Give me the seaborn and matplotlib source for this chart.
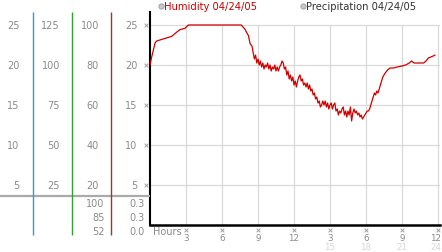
import matplotlib
matplotlib.use("Agg")
import matplotlib.pyplot as plt
import seaborn as sns
import pandas as pd

# ---------------- data ----------------
hours = [0.0, 0.14, 0.42, 0.55, 1.25, 1.8, 2.2, 2.5, 2.9, 3.2, 7.6, 7.9, 8.2, 8.35, 8.5,
         8.6, 8.7, 8.8, 8.9, 9.0, 9.1, 9.2, 9.3, 9.4, 9.5, 9.6, 9.7, 9.8, 9.9,
         10.0, 10.1, 10.2, 10.3, 10.4, 10.5, 10.6, 10.7, 10.8, 10.9,
         11.0, 11.1, 11.2, 11.3, 11.4, 11.5, 11.6, 11.7, 11.8, 11.9,
         12.0, 12.1, 12.2, 12.3, 12.4, 12.5, 12.6, 12.7, 12.8, 12.9,
         13.0, 13.1, 13.2, 13.3, 13.4, 13.5, 13.6, 13.7, 13.8, 13.9,
         14.0, 14.1, 14.2, 14.3, 14.4, 14.5, 14.6, 14.7, 14.8, 14.9,
         15.0, 15.1, 15.2, 15.3, 15.4, 15.5, 15.6, 15.7, 15.8, 15.9,
         16.0, 16.1, 16.2, 16.3, 16.4, 16.5, 16.6, 16.7, 16.8, 16.9,
         17.0, 17.1, 17.2, 17.3, 17.4, 17.5, 17.6, 17.7, 17.8, 17.9,
         18.0, 18.1, 18.2, 18.3, 18.4, 18.5, 18.6, 18.7, 18.8, 18.9,
         19.0, 19.1, 19.2, 19.3, 19.4, 19.5, 19.6, 19.8,
         20.0, 20.3, 20.6, 21.0, 21.3, 21.6, 21.8, 22.0, 22.4, 22.8,
         23.0, 23.2, 23.4, 23.6, 23.75]
humidity = [80, 84, 91, 92, 93.3, 94.3, 96.3, 97.7, 98.3, 100, 100, 98, 94.7, 90.5, 89.5,
            86, 83, 85, 81, 83, 80, 82, 79, 81, 78, 80, 79, 81, 78,
            80, 77, 79, 78, 80, 77, 79, 77, 79, 80,
            82, 81, 78, 79, 75, 77, 73, 75, 72, 74,
            70, 72, 69, 72, 74, 75, 72, 73, 70, 71,
            69, 71, 68, 70, 67, 68, 65, 66, 63, 64,
            61, 62, 59, 60, 62, 60, 62, 59, 61, 58,
            60, 61, 58, 60, 61, 57, 58, 55, 57, 56,
            58, 59, 55, 57, 54, 57, 55, 59, 52, 56,
            58, 56, 57, 55, 56, 54, 55, 53, 54, 55,
            56, 57, 57, 58, 60, 62, 64, 66, 65, 67,
            66, 68, 70, 72, 74, 75, 76, 77.5,
            78.5, 78.5, 79, 79.5, 80, 81, 82, 81, 81, 81,
            82, 83.5, 84, 84.5, 85]

col1_labels = ["25", "20", "15", "10", "5"]
col2_labels = ["125", "100", "75", "50", "25"]
col3_labels = ["100", "80", "60", "40", "20"]
col4_labels = ["25", "20", "15", "10", "5"]
grid_levels = [100, 80, 60, 40, 20]
col3_lower = ["100", "85", "52"]
col4_lower = ["0.3", "0.3", "0.0"]
hour_ticks = [3, 6, 9, 12, 15, 18, 21, 24]
hour_labels = ["3", "6", "9", "12", "3", "6", "9", "12"]
hour_labels_24 = ["", "", "", "", "15", "18", "21", "24"]

legend_items = ["Humidity 04/24/05", "Precipitation 04/24/05"]

# ---------------- figure ----------------
sns.set_style("white")
plt.rcParams['font.family'] = ['DejaVu Sans', 'Noto Sans CJK JP']

W, H = 442, 253
fig = plt.figure(figsize=(W / 100, H / 100), dpi=100)
fig.patch.set_facecolor("white")

# main plot: x 150..440 px, y 13..226 px ; 12 px per hour, 2 px per %
ax = fig.add_axes([150 / W, (H - 226) / H, 290 / W, 213 / H])
ax.set_xlim(0, 290 / 12)
ax.set_ylim(0, 106.5)
ax.set_facecolor("white")

grid_c = "#d9d9d9"
ax.hlines(grid_levels, 0, 290 / 12, color=grid_c, lw=0.9, zorder=1)
ax.vlines(hour_ticks, 0, 100, color=grid_c, lw=0.9, zorder=1)

df = pd.DataFrame({"hour": hours, "humidity": humidity})
sns.lineplot(data=df, x="hour", y="humidity", ax=ax, color="#d00000", lw=0.9, zorder=3)
ax.set_xlabel("")
ax.set_ylabel("")
ax.set_xticks([])
ax.set_yticks([])
for s in ["top", "right"]:
    ax.spines[s].set_visible(False)
ax.spines["left"].set_color("black")
ax.spines["left"].set_linewidth(1.5)
ax.spines["bottom"].set_color("black")
ax.spines["bottom"].set_linewidth(1.8)

txt_c = "#8a8a8a"
mark_kw = dict(marker="x", s=7, color="#a0a0a0", linewidths=0.7, clip_on=False, zorder=5)

# x tick labels
ax.scatter(hour_ticks, [-2.3] * len(hour_ticks), **mark_kw)
for h, lab, lab24 in zip(hour_ticks, hour_labels, hour_labels_24):
    lx = min(h, 23.8)
    ax.text(lx, -6.2, lab, fontsize=6.3, color=txt_c, ha="center", va="center", clip_on=False)
    if lab24:
        ax.text(lx, -10.9, lab24, fontsize=6.3, color="#d6d6d6", ha="center", va="center",
                clip_on=False)
ax.text(0.22, -2.9, "Hours", fontsize=7, color=txt_c, ha="left", va="center", clip_on=False)

# legend
leg_x = [0.9, 12.72]
leg_c = ["#cc0000", "#333333"]
for lx, lab, c in zip(leg_x, legend_items, leg_c):
    ax.scatter([lx], [109.5], s=14, color="#c8c8c8", edgecolor="#9a9a9a", linewidth=0.6,
               clip_on=False, zorder=5)
    ax.text(lx + 0.27, 109.5, lab, fontsize=7.2, color=c, ha="left", va="center", clip_on=False)

# ---------------- left scale panel ----------------
lax = fig.add_axes([0, 0, 150 / W, 1])
lax.set_xlim(0, 150)
lax.set_ylim(-13.5, 113)
lax.axis("off")

lax.hlines([14.5], 0, 150, color="#aaaaaa", lw=1.6, zorder=1)
for x, c in zip([33, 72, 111], ["#2f9fd0", "#34a034", "#b03030"]):
    lax.vlines([x], -5, 106.5, color=c, lw=1.0, zorder=2)

lax.scatter([146] * len(grid_levels), grid_levels, **mark_kw)
for lev, a, b, cc, d in zip(grid_levels, col1_labels, col2_labels, col3_labels, col4_labels):
    lax.text(19.5, lev, a, fontsize=7, color=txt_c, ha="right", va="center")
    lax.text(60, lev, b, fontsize=7, color=txt_c, ha="right", va="center")
    lax.text(99, lev, cc, fontsize=7, color=txt_c, ha="right", va="center")
    lax.text(137.5, lev, d, fontsize=7, color=txt_c, ha="right", va="center")

for yy, a, b in zip([10.85, 3.85, -3.15], col3_lower, col4_lower):
    lax.text(104.5, yy, a, fontsize=7, color=txt_c, ha="right", va="center")
    lax.text(144.5, yy, b, fontsize=7, color=txt_c, ha="right", va="center")

fig.savefig("out.png", dpi=100, facecolor="white")
